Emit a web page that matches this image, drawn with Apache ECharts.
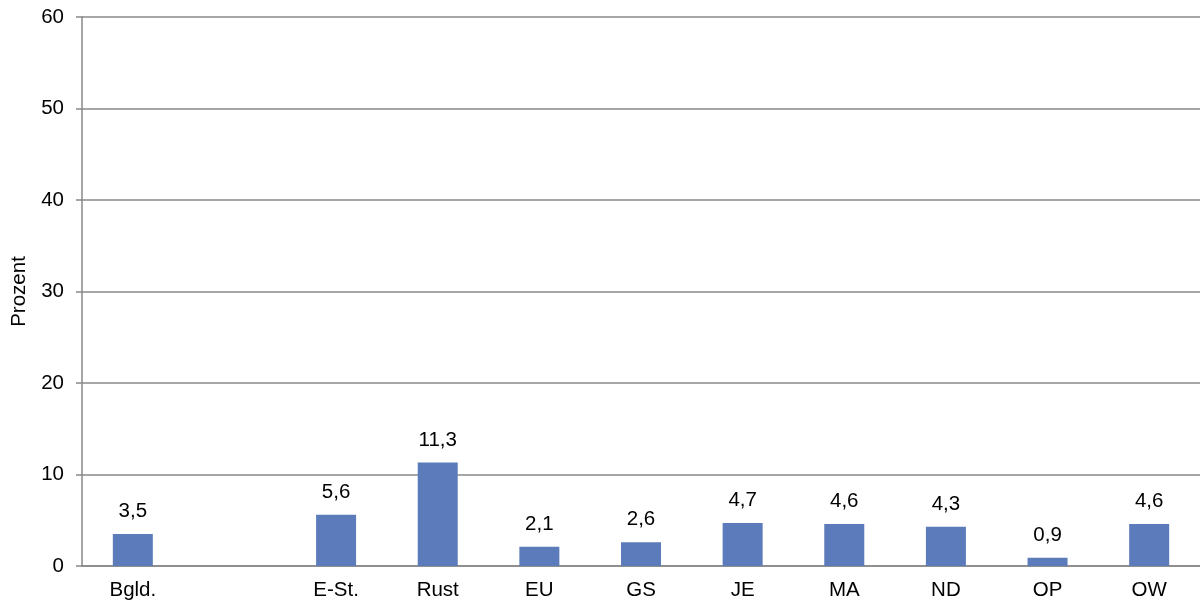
<!DOCTYPE html>
<html><head><meta charset="utf-8">
<script src="https://cdn.jsdelivr.net/npm/echarts@6/dist/echarts.min.js"></script>
<style>html,body{margin:0;padding:0;background:#fff}#c{width:1200px;height:605px}</style>
</head><body><div id="c"></div>
<script>
var categories = ['Bgld.', '', 'E-St.', 'Rust', 'EU', 'GS', 'JE', 'MA', 'ND', 'OP', 'OW'];
var values = [3.5, null, 5.6, 11.3, 2.1, 2.6, 4.7, 4.6, 4.3, 0.9, 4.6];
var yTicks = [0, 10, 20, 30, 40, 50, 60];

var FONT = 'Liberation Sans, Arial';
var FS = 20.5;
var chart = echarts.init(document.getElementById('c'));
chart.setOption({
  animation: false,
  grid: {left: 82, right: -2, top: 17, bottom: 39, containLabel: false},
  xAxis: {
    type: 'category', data: categories,
    axisLine: {lineStyle: {color: '#888', width: 1.5}},
    axisTick: {show: false},
    axisLabel: {color: '#000', fontFamily: FONT, fontSize: FS, margin: 14}
  },
  yAxis: {
    type: 'value', min: yTicks[0], max: yTicks[yTicks.length - 1], interval: 10,
    name: 'Prozent', nameLocation: 'middle', nameGap: 51, nameRotate: 90,
    nameTextStyle: {color: '#000', fontFamily: FONT, fontSize: FS},
    axisLine: {show: true, lineStyle: {color: '#888', width: 1.5}},
    axisTick: {show: true, length: 6, lineStyle: {color: '#888', width: 1.5}},
    axisLabel: {color: '#000', fontFamily: FONT, fontSize: FS, margin: 18},
    splitLine: {lineStyle: {color: '#888', width: 1.5}}
  },
  series: [{
    type: 'bar', data: values, barWidth: 40,
    itemStyle: {color: '#5b7bbb'},
    label: {
      show: true, position: 'top', distance: 12, color: '#000',
      fontFamily: FONT, fontSize: FS,
      formatter: function (p) { return p.value == null ? '' : p.value.toFixed(1).replace('.', ','); }
    }
  }]
});
</script></body></html>
